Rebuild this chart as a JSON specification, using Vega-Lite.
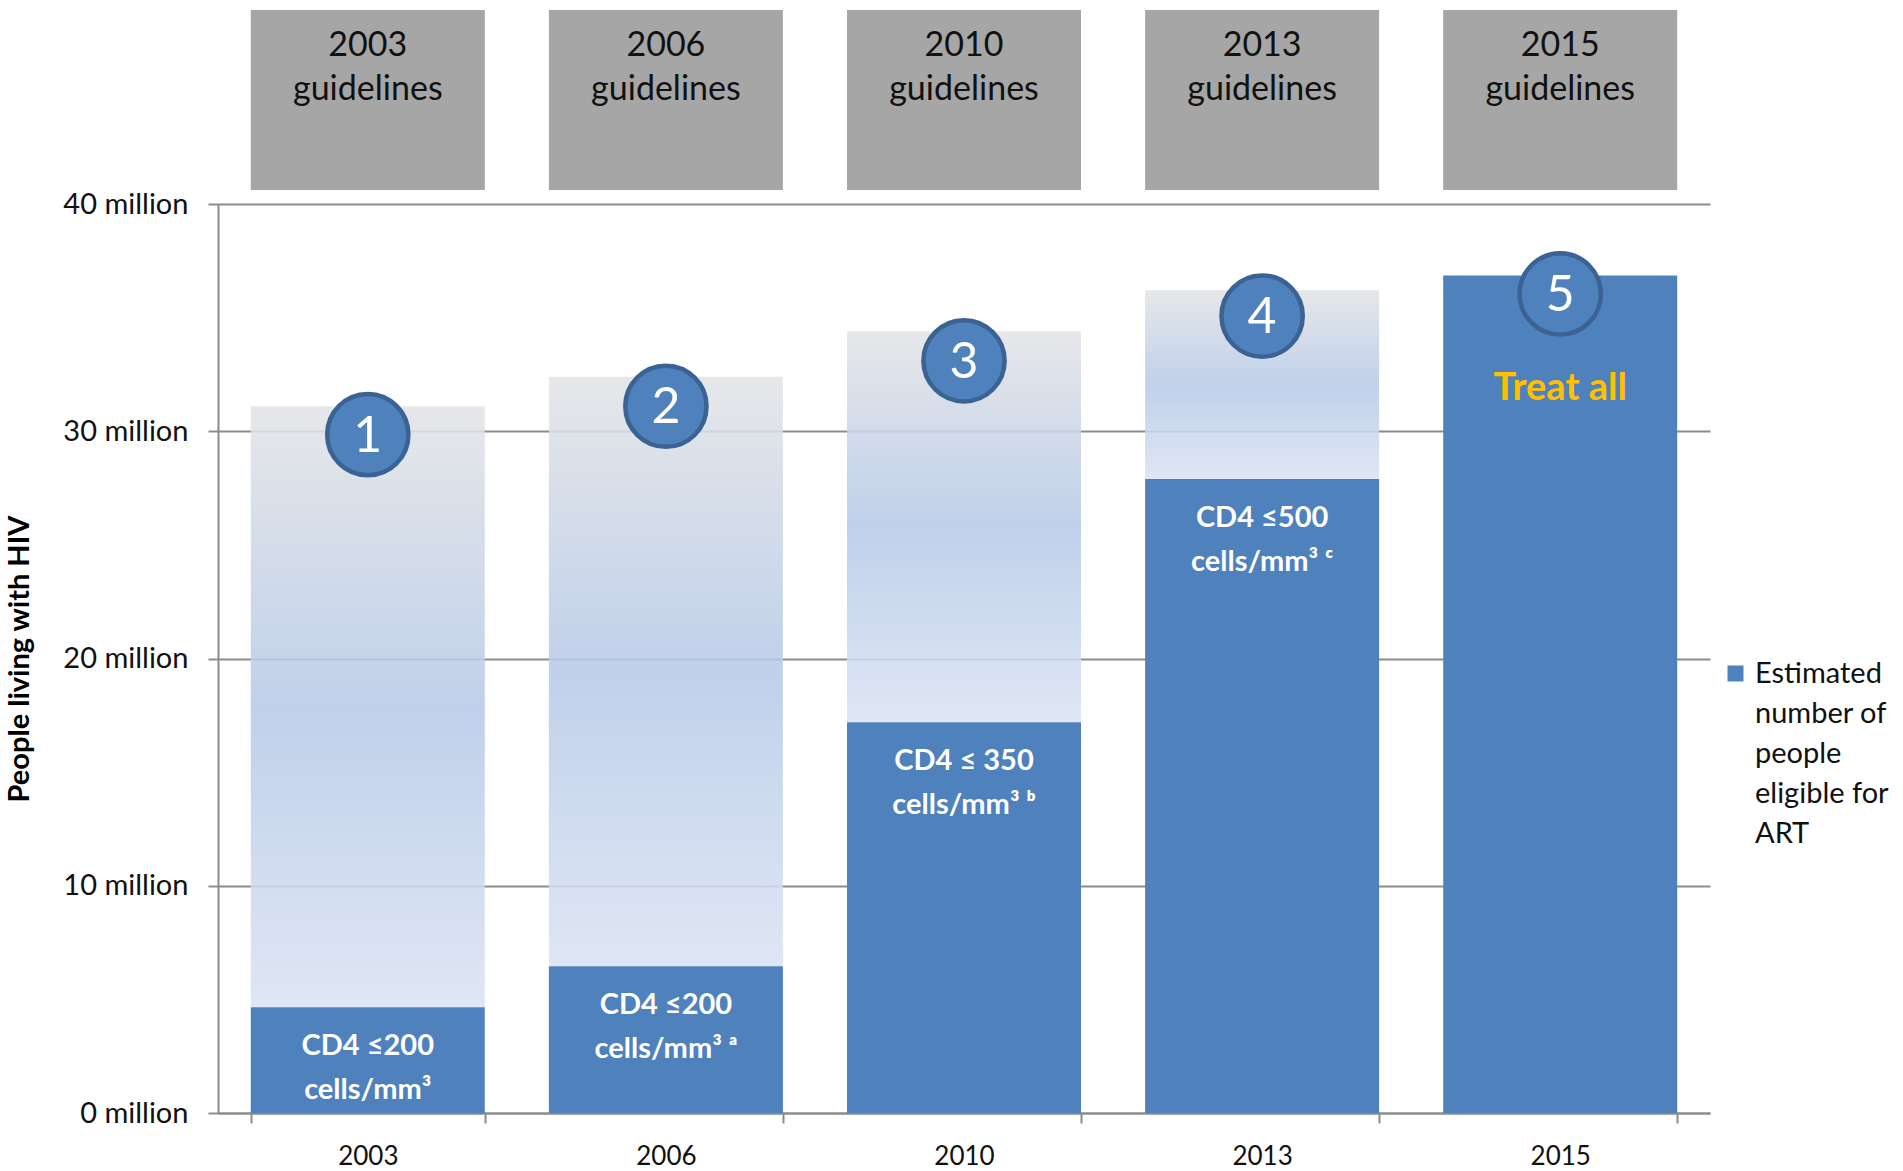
{
  "$schema": "https://vega.github.io/schema/vega-lite/v6.json",
  "padding": {"left": 5, "top": 10, "right": 0, "bottom": 0},
  "background": "white",
  "datasets": {
    "bars": [
      {"year": "2003", "eligible": 4.65, "total": 31.1, "badge": 29.85, "num": "1", "label": ["CD4 ≤200", "cells/mm³"], "box": ["2003", "guidelines"]},
      {"year": "2006", "eligible": 6.46, "total": 32.4, "badge": 31.1, "num": "2", "label": ["CD4 ≤200", "cells/mm³ ᵃ"], "box": ["2006", "guidelines"]},
      {"year": "2010", "eligible": 17.2, "total": 34.4, "badge": 33.1, "num": "3", "label": ["CD4 ≤ 350", "cells/mm³ ᵇ"], "box": ["2010", "guidelines"]},
      {"year": "2013", "eligible": 27.9, "total": 36.2, "badge": 35.07, "num": "4", "label": ["CD4 ≤500", "cells/mm³ ᶜ"], "box": ["2013", "guidelines"]},
      {"year": "2015", "eligible": 36.85, "total": 36.85, "badge": 36.04, "num": "5", "label": null, "box": ["2015", "guidelines"]}
    ],
    "notes": [
      {"year": "2015", "eligible": 36.85, "note": "Treat all"}
    ]
  },
  "resolve": {"scale": {"x": "shared"}},
  "spacing": 0,
  "vconcat": [
    {
      "width": 1492,
      "height": 180,
      "data": {"name": "bars"},
      "layer": [
        {
          "mark": {"type": "bar", "color": "#A6A6A6"},
          "encoding": {
            "x": {"field": "year", "type": "nominal", "axis": null, "scale": {"paddingInner": 0.215, "paddingOuter": 0.11}}
          }
        },
        {
          "mark": {"type": "text", "baseline": "top", "dy": -71, "fontSize": 34, "color": "#111111", "lineHeight": 44},
          "encoding": {
            "x": {"field": "year", "type": "nominal", "axis": null},
            "text": {"field": "box"}
          }
        }
      ]
    },
    {
      "width": 1492,
      "height": 909,
      "data": {"name": "bars"},
      "encoding": {
        "x": {
          "field": "year", "type": "nominal",
          "scale": {"paddingInner": 0.215, "paddingOuter": 0.11},
          "axis": {"title": null, "labelAngle": 0, "tickBand": "extent", "tickSize": 10, "labelPadding": 20, "labelFontSize": 26, "labelColor": "#111111", "domainColor": "#8C8C8C", "tickColor": "#8C8C8C", "domainWidth": 2, "tickWidth": 2}
        }
      },
      "layer": [
        {
          "mark": {
            "type": "bar",
            "fillOpacity": 0.88,
            "fill": {
              "gradient": "linear", "x1": 0, "y1": 0, "x2": 0, "y2": 1,
              "stops": [
                {"offset": 0, "color": "#E3E4E6"},
                {"offset": 0.5, "color": "#B7CAE8"},
                {"offset": 1, "color": "#DBE3F3"}
              ]
            }
          },
          "encoding": {
            "y": {
              "field": "total", "type": "quantitative",
              "scale": {"domain": [0, 40], "nice": false},
              "axis": {
                "title": "People living with HIV", "titleFontSize": 29, "titleFontWeight": "bold", "titleColor": "#000000", "titlePadding": 28,
                "values": [0, 10, 20, 30, 40], "labelExpr": "datum.value + ' million'",
                "labelFontSize": 29, "labelColor": "#111111", "labelPadding": 20,
                "tickSize": 10, "tickColor": "#8C8C8C", "tickWidth": 2,
                "domainColor": "#8C8C8C", "domainWidth": 2,
                "grid": true, "gridColor": "#8C8C8C", "gridWidth": 2
              }
            },
            "y2": {"field": "eligible"}
          }
        },
        {
          "mark": {"type": "bar"},
          "encoding": {
            "y": {"field": "eligible", "type": "quantitative"},
            "color": {
              "datum": "Estimated number of people eligible for ART", "type": "nominal",
              "scale": {"range": ["#4F81BD"]},
              "legend": {
                "title": null, "orient": "none", "legendX": 1503, "legendY": 649,
                "symbolType": "square", "symbolSize": 256, "symbolStrokeWidth": 0,
                "labelFontSize": 29, "labelColor": "#111111", "labelLimit": 400, "labelOffset": 5,
                "labelExpr": "['Estimated', 'number of', 'people', 'eligible for', 'ART']"
              }
            }
          }
        },
        {
          "mark": {"type": "point", "shape": "circle", "filled": true, "size": 6600, "fill": "#4F81BD", "stroke": "#3A6393", "strokeWidth": 4.5, "opacity": 1},
          "encoding": {"y": {"field": "badge", "type": "quantitative"}}
        },
        {
          "mark": {"type": "text", "fontSize": 50, "color": "#FFFFFF", "baseline": "middle", "dy": 2},
          "encoding": {"y": {"field": "badge", "type": "quantitative"}, "text": {"field": "num"}}
        },
        {
          "transform": [{"filter": "datum.label != null"}],
          "mark": {"type": "text", "fontSize": 29, "fontWeight": "bold", "color": "#FFFFFF", "baseline": "top", "dy": 25, "lineHeight": 44},
          "encoding": {"y": {"field": "eligible", "type": "quantitative"}, "text": {"field": "label"}}
        },
        {
          "data": {"name": "notes"},
          "mark": {"type": "text", "fontSize": 38, "fontWeight": "bold", "color": "#FFC000", "baseline": "middle", "dy": 113},
          "encoding": {"y": {"field": "eligible", "type": "quantitative"}, "text": {"field": "note"}}
        }
      ]
    }
  ],
  "config": {
    "font": "Lato",
    "view": {"stroke": null},
    "style": {"guide-label": {"lineHeight": 40}}
  }
}
